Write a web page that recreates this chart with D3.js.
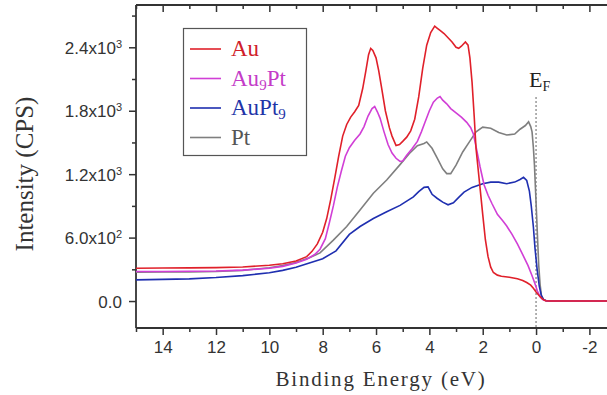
<!DOCTYPE html>
<html><head><meta charset="utf-8">
<script src="https://cdn.jsdelivr.net/npm/d3@7"></script>
<style>body{margin:0;background:#fff}svg{display:block}</style>
</head><body>
<script>
// ---- data ----
const auE  = [15,14,13,12,11,10,9.5,9,8.6,8.4,8.2,8.0,7.85,7.7,7.55,7.4,7.25,7.1,6.95,6.8,6.65,6.5,6.38,6.28,6.2,6.12,6.0,5.9,5.8,5.65,5.5,5.4,5.25,5.12,5.0,4.85,4.7,4.55,4.4,4.25,4.1,3.95,3.8,3.7,3.6,3.45,3.3,3.15,3.0,2.9,2.8,2.65,2.55,2.48,2.4,2.32,2.25,2.12,2.0,1.9,1.8,1.7,1.6,1.45,1.3,1.0,0.7,0.5,0.35,0.2,0.1,0.0,-0.12,-0.25,-0.35,-0.5,-2.7];
const auI  = [310,312,314,316,322,338,352,378,420,470,540,650,780,960,1160,1370,1560,1670,1740,1790,1850,2010,2180,2330,2390,2370,2300,2180,2030,1800,1640,1560,1470,1480,1510,1550,1610,1720,1930,2200,2420,2540,2600,2580,2560,2530,2490,2450,2400,2390,2410,2450,2420,2300,2070,1750,1440,1120,820,580,420,320,270,245,235,225,210,195,175,150,120,85,50,18,3,0,0];
const au9ptE = [15,14,13,12,11,10,9.5,9,8.6,8.3,8.1,7.9,7.75,7.6,7.45,7.3,7.15,7.0,6.8,6.6,6.45,6.3,6.15,6.05,5.95,5.85,5.7,5.55,5.4,5.25,5.1,5.0,4.85,4.65,4.45,4.3,4.15,4.0,3.85,3.7,3.6,3.5,3.35,3.2,3.0,2.8,2.6,2.45,2.35,2.25,2.1,1.95,1.8,1.65,1.45,1.25,1.1,0.9,0.7,0.5,0.3,0.15,0.05,-0.05,-0.15,-0.25,-0.4,-2.7];
const au9ptI = [280,280,282,284,292,310,328,360,395,440,490,590,740,900,1080,1230,1370,1450,1520,1580,1650,1750,1820,1840,1790,1730,1600,1480,1400,1350,1320,1325,1380,1440,1510,1600,1700,1800,1880,1920,1935,1900,1865,1820,1780,1740,1690,1640,1580,1460,1270,1100,1000,920,820,760,710,630,540,440,335,240,170,95,40,15,0,0];
const aupt9E = [15,14,13,12,11,10,9.5,9,8.5,8.0,7.5,7.0,6.6,6.1,5.6,5.1,4.6,4.4,4.2,4.05,3.9,3.7,3.5,3.3,3.1,2.9,2.7,2.4,2.0,1.7,1.4,1.1,0.8,0.6,0.47,0.35,0.25,0.18,0.1,0.04,-0.04,-0.12,-0.2,-0.28,-0.4,-2.7];
const aupt9I = [200,205,210,222,240,268,290,320,360,400,475,630,705,780,845,905,985,1035,1075,1080,1010,970,935,910,930,980,1030,1075,1110,1125,1125,1110,1125,1150,1170,1140,1040,900,700,500,300,140,50,15,0,0];
const ptE  = [15,14,13,12,11,10,9.5,9,8.5,8.1,7.6,7.1,6.6,6.1,5.6,5.1,4.75,4.45,4.2,4.1,3.9,3.7,3.5,3.35,3.2,3.0,2.75,2.5,2.25,2.0,1.7,1.4,1.1,0.8,0.6,0.4,0.28,0.2,0.15,0.1,0.06,0.02,-0.02,-0.06,-0.1,-0.15,-0.2,-0.27,-0.4,-2.7];
const ptI  = [272,274,276,280,290,315,335,365,410,455,576,705,860,1020,1145,1290,1396,1470,1490,1505,1445,1350,1250,1205,1205,1285,1410,1505,1600,1645,1635,1595,1570,1580,1625,1660,1695,1650,1600,1450,1285,1050,813,570,340,160,55,15,0,0];

const seriesNames  = ["Au","Au9Pt","AuPt9","Pt"];
const xTicks = [14,12,10,8,6,4,2,0,-2];
const xMinor = [15,13,11,9,7,5,3,1,-1];
const yTicks = [0,600,1200,1800,2400];
const yMinor = [300,900,1500,2100,2700];
const yTickLabels = [["0.0",""],["6.0x10","2"],["1.2x10","3"],["1.8x10","3"],["2.4x10","3"]];

// ---- layout ----
const W=607,H=395;
const L=136,T=5,B=328,R=607;
const svg=d3.select("body").append("svg").attr("width",W).attr("height",H);
const x=d3.scaleLinear().domain([15,-2.66]).range([L,R]);
const y=d3.scaleLinear().domain([-255,2800]).range([B,T]);

svg.append("defs").append("clipPath").attr("id","clip")
  .append("rect").attr("x",L).attr("y",T).attr("width",R-L).attr("height",B-T);

const axisCol="#333";
// bottom axis
const gx=svg.append("g").attr("transform",`translate(0,${B})`)
  .call(d3.axisBottom(x).tickValues(xTicks).tickSize(7).tickPadding(6).tickFormat(d=>d));
gx.select(".domain").remove();
gx.selectAll("line").attr("stroke",axisCol).attr("stroke-width",1.5);
gx.selectAll("text").attr("font-family","Liberation Sans, Arial, sans-serif").attr("font-size",17).attr("fill","#333");
svg.append("g").attr("transform",`translate(0,${B})`)
  .call(d3.axisBottom(x).tickValues(xMinor).tickSize(4).tickFormat(""))
  .call(g=>g.select(".domain").remove())
  .selectAll("line").attr("stroke",axisCol).attr("stroke-width",1.5);
// top axis (inward)
svg.append("g").attr("transform",`translate(0,${T})`)
  .call(d3.axisBottom(x).tickValues(xTicks).tickSize(7).tickFormat(""))
  .call(g=>g.select(".domain").remove())
  .selectAll("line").attr("stroke",axisCol).attr("stroke-width",1.5);
svg.append("g").attr("transform",`translate(0,${T})`)
  .call(d3.axisBottom(x).tickValues(xMinor).tickSize(4).tickFormat(""))
  .call(g=>g.select(".domain").remove())
  .selectAll("line").attr("stroke",axisCol).attr("stroke-width",1.5);
// left axis
const gy=svg.append("g").attr("transform",`translate(${L},0)`)
  .call(d3.axisLeft(y).tickValues(yTicks).tickSize(7).tickPadding(7).tickFormat(""));
gy.select(".domain").remove();
gy.selectAll("line").attr("stroke",axisCol).attr("stroke-width",1.5);
gy.selectAll(".tick").each(function(d,i){
  const t=d3.select(this).append("text").attr("x",-14).attr("dy","0.36em")
    .attr("text-anchor","end").attr("fill","#333")
    .attr("font-family","Liberation Sans, Arial, sans-serif").attr("font-size",17);
  const lab=yTickLabels[yTicks.indexOf(d)];
  t.append("tspan").text(lab[0]);
  if(lab[1]) t.append("tspan").attr("font-size",11).attr("dy","-0.55em").text(lab[1]);
});
svg.append("g").attr("transform",`translate(${L},0)`)
  .call(d3.axisLeft(y).tickValues(yMinor).tickSize(4).tickFormat(""))
  .call(g=>g.select(".domain").remove())
  .selectAll("line").attr("stroke",axisCol).attr("stroke-width",1.5);
// frame lines
svg.append("line").attr("x1",L).attr("x2",L).attr("y1",T).attr("y2",B).attr("stroke",axisCol).attr("stroke-width",1.8);
svg.append("line").attr("x1",L).attr("x2",R).attr("y1",T).attr("y2",T).attr("stroke",axisCol).attr("stroke-width",1.8);
svg.append("line").attr("x1",L).attr("x2",R).attr("y1",B).attr("y2",B).attr("stroke",axisCol).attr("stroke-width",1.8);

// E_F dotted line
svg.append("line").attr("x1",x(0)).attr("x2",x(0)).attr("y1",97).attr("y2",B)
  .attr("stroke","#999").attr("stroke-width",1.5).attr("stroke-dasharray","2,2");
const ef=svg.append("text").attr("x",x(0)-7).attr("y",87).attr("font-family","Liberation Serif, Times New Roman, serif")
  .attr("font-size",22).attr("fill","#222");
ef.append("tspan").text("E");
ef.append("tspan").attr("font-size",14).attr("dy",4).text("F");

// curves
const line=d3.line().x(d=>x(d[0])).y(d=>y(d[1]));
const curves=[
  {E:ptE,I:ptI,c:"#7f7f7f"},
  {E:aupt9E,I:aupt9I,c:"#1f2fb0"},
  {E:au9ptE,I:au9ptI,c:"#d13fd6"},
  {E:auE,I:auI,c:"#e0202a"}
];
const gc=svg.append("g").attr("clip-path","url(#clip)");
curves.forEach(s=>{
  gc.append("path").datum(s.E.map((e,i)=>[e,s.I[i]]))
    .attr("d",line).attr("fill","none").attr("stroke",s.c).attr("stroke-width",1.6);
});

// legend
const lg=svg.append("g");
lg.append("rect").attr("x",183.5).attr("y",28.5).attr("width",123).attr("height",127)
  .attr("fill","#fff").attr("stroke","#555").attr("stroke-width",1.2);
const legItems=[
  {n:seriesNames[0],c:"#e0202a",tc:"#d0202a",parts:[["Au",0]]},
  {n:seriesNames[1],c:"#d13fd6",tc:"#c43cc8",parts:[["Au",0],["9",1],["Pt",0]]},
  {n:seriesNames[2],c:"#1f2fb0",tc:"#1f35a8",parts:[["AuPt",0],["9",1]]},
  {n:seriesNames[3],c:"#7f7f7f",tc:"#555",parts:[["Pt",0]]}
];
legItems.forEach((it,i)=>{
  const by=56+i*29.5;
  lg.append("line").attr("x1",190).attr("x2",221).attr("y1",by-7).attr("y2",by-7)
    .attr("stroke",it.c).attr("stroke-width",1.6);
  const t=lg.append("text").attr("x",231).attr("y",by).attr("fill",it.tc)
    .attr("font-family","Liberation Serif, Times New Roman, serif").attr("font-size",23);
  let sub=false;
  it.parts.forEach(p=>{
    const ts=t.append("tspan").text(p[0]);
    if(p[1]){ts.attr("font-size",15).attr("dy",4);sub=true;}
    else if(sub){ts.attr("dy",-4);sub=false;}
  });
});

// axis titles
svg.append("text").attr("transform","translate(33,174) rotate(-90)").attr("text-anchor","middle")
  .attr("font-family","Liberation Serif, Times New Roman, serif").attr("font-size",25).attr("fill","#333")
  .text("Intensity (CPS)");
svg.append("text").attr("x",381).attr("y",386).attr("text-anchor","middle")
  .attr("font-family","Liberation Serif, Times New Roman, serif").attr("font-size",21).attr("letter-spacing",1.8).attr("fill","#333")
  .text("Binding Energy (eV)");
</script>
</body></html>
